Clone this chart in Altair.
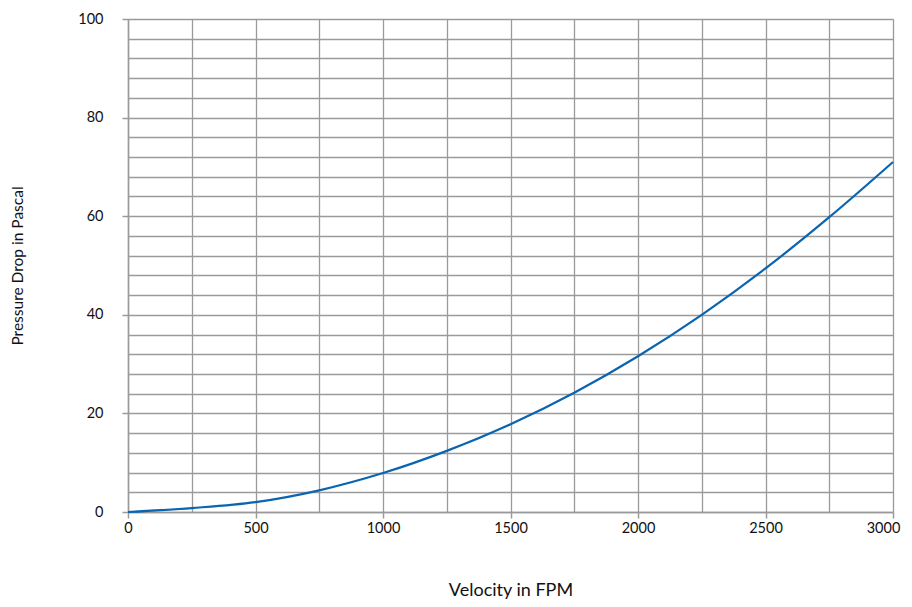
import altair as alt
import pandas as pd

velocity = [0, 250, 500, 750, 1000, 1250, 1500, 1750, 2000, 2250, 2500, 2750, 3000]
pressure = [0, 0.8, 2.0, 4.4, 7.9, 12.4, 17.8, 24.2, 31.6, 40.0, 49.4, 59.8, 71.0]

x_grid = list(range(0, 3001, 250))
y_grid = list(range(0, 101, 4))

df = pd.DataFrame({"v": velocity, "p": pressure})

FONT = "Lato"
GRID = "#9a9a9a"

chart = alt.Chart(df).mark_line(color="#0a64b0", strokeWidth=2.2, interpolate="monotone").encode(
    x=alt.X("v:Q", scale=alt.Scale(domain=[0, 3000], nice=False, zero=True),
            axis=alt.Axis(values=x_grid, title="Velocity in FPM",
                          labelExpr="datum.value % 500 === 0 ? datum.label : ''",
                          tickOpacity={"expr": "datum.value % 500 === 0 ? 1 : 0"},
                          labelOffset={"expr": "datum.value === 3000 ? -10 : 0"},
                          grid=True, gridColor=GRID, gridWidth=1.3,
                          domainColor=GRID, domainWidth=1.5, tickColor=GRID, tickWidth=1.5,
                          tickSize=6, labelPadding=3, labelFontSize=14.5, labelColor="#111",
                          labelFont=FONT, titleFont=FONT, titleFontSize=18, titleFontWeight="normal",
                          titleColor="#111", titleY=78, titleBaseline="middle", labelFlush=False,
                          format="d")),
    y=alt.Y("p:Q", scale=alt.Scale(domain=[0, 100], nice=False),
            axis=alt.Axis(values=y_grid, title="Pressure Drop in Pascal",
                          labelExpr="datum.value % 20 === 0 ? datum.label : ''",
                          tickOpacity={"expr": "datum.value % 20 === 0 ? 1 : 0"},
                          grid=True, gridColor=GRID, gridWidth=1.3,
                          domainColor=GRID, domainWidth=1.5, tickColor=GRID, tickWidth=1.5,
                          tickSize=6, labelPadding=19, labelFontSize=14.5, labelColor="#111",
                          labelFont=FONT, titleFont=FONT, titleFontSize=15.5, titleFontWeight="normal",
                          titleColor="#111", titleX=-111, titleBaseline="middle", labelFlush=False)),
).properties(
    width=765, height=493,
    autosize=alt.AutoSizeParams(type="none"),
    padding={"left": 120, "top": 11, "right": 11, "bottom": 87},
).configure_view(stroke=None).configure(background="white")

chart.save("out.html", embed_options={"renderer": "svg", "actions": False})
